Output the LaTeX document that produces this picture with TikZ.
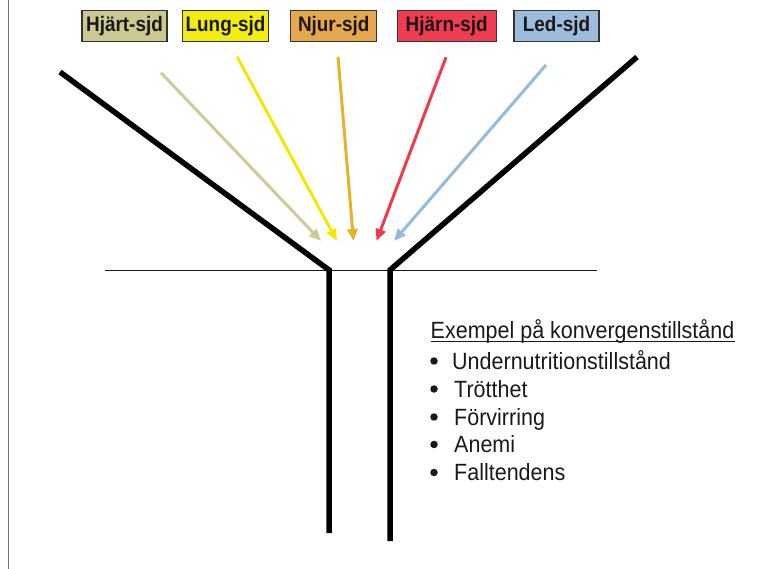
\documentclass[tikz,border=0pt]{standalone}
\usepackage{fontspec}
\setmainfont{Liberation Sans}
\newfontfamily\boxfont[FakeStretch=0.9]{Liberation Sans}
\newfontfamily\bodyfont[FakeStretch=0.915]{Liberation Sans}
\usetikzlibrary{arrows.meta}
\definecolor{cHjart}{HTML}{CCC891}
\definecolor{cLung}{HTML}{F2EC0F}
\definecolor{cNjur}{HTML}{E6A74F}
\definecolor{cHjarn}{HTML}{F03C50}
\definecolor{cLed}{HTML}{9DBBDA}
\definecolor{aHjart}{HTML}{CFCB97}
\definecolor{aLung}{HTML}{F2E800}
\definecolor{aNjur}{HTML}{E5B22B}
\definecolor{aHjarn}{HTML}{EF3A4D}
\definecolor{aLed}{HTML}{95BADA}
\definecolor{boxedge}{HTML}{333333}
\tikzset{
  sjdbox/.style={draw=boxedge, line width=1.1pt, minimum height=31pt, inner sep=0pt,
    font=\boxfont\bfseries\fontsize{21}{24}\selectfont, text=black!90},
  inflow/.style={line width=3pt, -{Triangle[length=12pt,width=10pt]}},
  funnel/.style={line width=5.5pt, black, line join=miter},
  bodytext/.style={font=\bodyfont\fontsize{23.5}{26}\selectfont, inner sep=0pt, anchor=base west, text=black!90},
  bulletmark/.style={circle, fill=black!90, inner sep=0pt, minimum size=7.5pt},
}
\begin{document}
\begin{tikzpicture}[x=1pt,y=-1pt]
\useasboundingbox (0,0) rectangle (780,569);
% left frame edge
\draw[black!55, line width=1pt] (8,0) -- (8,569);

% boxes
\node[sjdbox, fill=cHjart, minimum width=85pt]  (hjart) at (124.5,26) {Hjärt-sjd};
\node[sjdbox, fill=cLung,  minimum width=85.5pt] (lung) at (225.5,26) {Lung-sjd};
\node[sjdbox, fill=cNjur,  minimum width=85.8pt] (njur) at (333.7,26) {Njur-sjd};
\node[sjdbox, fill=cHjarn, minimum width=98.7pt] (hjarn) at (446.7,26) {Hjärn-sjd};
\node[sjdbox, fill=cLed,   minimum width=85pt]  (led) at (556.5,26) {Led-sjd};

% arrow coordinates
\coordinate (sHjart) at (161,72.7);  \coordinate (tHjart) at (321,241);
\coordinate (sLung)  at (237,56.7);  \coordinate (tLung)  at (337,241);
\coordinate (sNjur)  at (338,56.7);  \coordinate (tNjur)  at (353.5,241);
\coordinate (sHjarn) at (446,57.3);  \coordinate (tHjarn) at (376.5,241);
\coordinate (sLed)   at (546,65);    \coordinate (tLed)   at (394,241);

\draw[inflow, aHjart] (sHjart) -- (tHjart);
\draw[inflow, aLung]  (sLung)  -- (tLung);
\draw[inflow, aNjur]  (sNjur)  -- (tNjur);
\draw[inflow, aHjarn] (sHjarn) -- (tHjarn);
\draw[inflow, aLed]   (sLed)   -- (tLed);

% horizontal line
\coordinate (hl) at (105,271); \coordinate (hr) at (597,271);
\draw[line width=1pt, black!90] (hl) -- (hr);

% funnel
\coordinate (fl1) at (60,72); \coordinate (fl2) at (329,270); \coordinate (fl3) at (329,533);
\coordinate (fr1) at (637,57); \coordinate (fr2) at (390,270); \coordinate (fr3) at (390,541);
\draw[funnel] (fl1) -- (fl2) -- (fl3);
\draw[funnel] (fr1) -- (fr2) -- (fr3);

% text
\node[bodytext] (ex) at (430.5,338.5) {Exempel på konvergenstillstånd};
\draw[line width=1pt, black!90] ([yshift=-2.7pt]ex.base west) -- ([yshift=-2.7pt]ex.base east);
\node[bulletmark] (b1) at (434,361) {};
\node[bodytext] (i1) at (452,369.5) {Undernutritionstillstånd};
\node[bulletmark] (b2) at (434,389) {};
\node[bodytext] (i2) at (454,397.5) {Trötthet};
\node[bulletmark] (b3) at (434,417) {};
\node[bodytext] (i3) at (454,425.5) {Förvirring};
\node[bulletmark] (b4) at (434,444.5) {};
\node[bodytext] (i4) at (454,453) {Anemi};
\node[bulletmark] (b5) at (434,472.5) {};
\node[bodytext] (i5) at (454,481) {Falltendens};
\end{tikzpicture}
\end{document}
